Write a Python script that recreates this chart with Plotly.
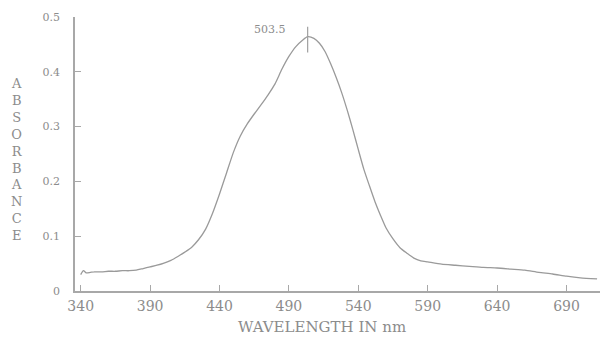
import plotly.graph_objects as go

# Absorption spectrum: wavelength (nm) vs absorbance
wavelength = [340, 342, 344, 347, 350, 355, 360, 365, 370, 375, 380, 385, 390,
              395, 400, 405, 410, 415, 420, 425, 430, 435, 440, 445, 450, 455,
              460, 465, 470, 475, 480, 485, 490, 495, 500, 503.5, 508, 512,
              516, 520, 524, 528, 532, 536, 540, 544, 548, 552, 556, 560, 565,
              570, 575, 580, 585, 590, 600, 610, 620, 630, 640, 650, 660, 670,
              680, 690, 700, 712]
absorbance = [0.030, 0.037, 0.033, 0.034, 0.035, 0.035, 0.036, 0.036, 0.037,
              0.037, 0.038, 0.041, 0.044, 0.047, 0.051, 0.056, 0.063, 0.071,
              0.080, 0.094, 0.113, 0.142, 0.177, 0.215, 0.253, 0.283, 0.305,
              0.323, 0.340, 0.358, 0.378, 0.405, 0.428, 0.446, 0.458, 0.464,
              0.461, 0.452, 0.437, 0.415, 0.390, 0.362, 0.330, 0.295, 0.258,
              0.222, 0.192, 0.163, 0.138, 0.115, 0.095, 0.079, 0.069, 0.060,
              0.055, 0.053, 0.049, 0.047, 0.045, 0.043, 0.042, 0.040, 0.038,
              0.034, 0.031, 0.027, 0.024, 0.022]

peak_wavelength = 503.5
peak_label = "503.5"

x_ticks = [340, 390, 440, 490, 540, 590, 640, 690]
x_tick_text = ["340", "390", "440", "490", "540", "590", "640", "690"]
y_ticks = [0, 0.1, 0.2, 0.3, 0.4, 0.5]
y_tick_text = ["0", "0.1", "0.2", "0.3", "0.4", "0.5"]

x_title = "WAVELENGTH IN nm"
y_title = "ABSORBANCE"

x_range = [335.9, 714.1]
y_range = [0, 0.5]

ink = "#8c8c8c"
axis_grey = "#a8a8a8"
font_family = "DejaVu Serif"

fig = go.Figure()

fig.add_trace(go.Scatter(
    x=wavelength, y=absorbance, mode="lines",
    line=dict(color="#9a9a9a", width=1.3, shape="spline", smoothing=0.6),
    hoverinfo="skip", showlegend=False,
))

# peak marker (on the overlay axes, which share the same ranges)
fig.add_trace(go.Scatter(
    x=[peak_wavelength, peak_wavelength], y=[0.435, 0.482], mode="lines",
    line=dict(color="#a0a0a0", width=1.2),
    xaxis="x2", yaxis="y2",
    hoverinfo="skip", showlegend=False,
))

fig.add_annotation(
    x=489, y=0.478, xref="x", yref="y", text=peak_label, showarrow=False,
    xanchor="right", yanchor="middle",
    font=dict(family=font_family, size=11, color=ink),
)

fig.add_annotation(
    x=-0.11, y=0.48, xref="paper", yref="paper",
    text="<br>".join(list(y_title)), showarrow=False,
    xanchor="center", yanchor="middle", align="center",
    font=dict(family=font_family, size=13, color=ink),
)

fig.add_annotation(
    x=0.47, y=-0.13, xref="paper", yref="paper", text=x_title,
    showarrow=False, xanchor="center", yanchor="middle",
    font=dict(family=font_family, size=15, color=ink),
)

# primary axes carry the tick labels; overlay axes draw the lines and inside ticks
fig.update_layout(
    width=602, height=339,
    margin=dict(l=75, r=2, t=17, b=48),
    paper_bgcolor="white", plot_bgcolor="white",
    xaxis=dict(
        range=x_range, tickvals=x_ticks, ticktext=x_tick_text,
        showgrid=False, zeroline=False, showline=False, ticks="",
        ticklabelstandoff=5,
        tickfont=dict(family=font_family, size=14, color=ink),
    ),
    yaxis=dict(
        range=y_range, tickvals=y_ticks, ticktext=y_tick_text,
        showgrid=False, zeroline=False, showline=False, ticks="",
        ticklabelstandoff=14,
        tickfont=dict(family=font_family, size=11, color=ink),
    ),
    xaxis2=dict(
        overlaying="x", anchor="y2", side="bottom", range=x_range,
        tickvals=x_ticks, showticklabels=False,
        showgrid=False, zeroline=False, showline=True,
        linecolor=axis_grey, linewidth=1.5,
        ticks="inside", ticklen=6, tickcolor=axis_grey, tickwidth=1.2,
    ),
    yaxis2=dict(
        overlaying="y", anchor="x2", side="left", range=y_range,
        tickvals=y_ticks, showticklabels=False,
        showgrid=False, zeroline=False, showline=True,
        linecolor=axis_grey, linewidth=1.5,
        ticks="inside", ticklen=6, tickcolor=axis_grey, tickwidth=1.2,
    ),
)

fig.write_html("out.html")
